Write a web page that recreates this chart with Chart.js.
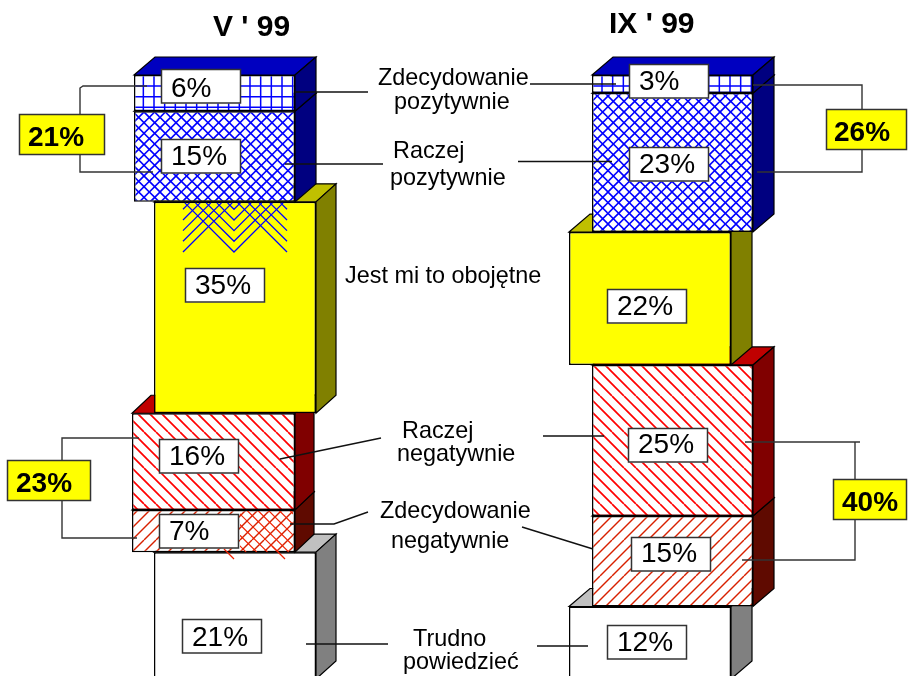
<!DOCTYPE html>
<html><head><meta charset="utf-8">
<style>html,body{margin:0;padding:0;background:#fff;overflow:hidden}#w{position:relative;width:908px;height:676px}</style>
<script src="https://cdn.jsdelivr.net/npm/chart.js@4"></script></head>
<body><div id="w"><canvas id="c" width="908" height="676"></canvas></div>
<script>
const periods = ["V ' 99", "IX ' 99"];
const answers = ["Zdecydowanie pozytywnie","Raczej pozytywnie","Jest mi to obojętne","Raczej negatywnie","Zdecydowanie negatywnie","Trudno powiedzieć"];
const valuesV = [6, 15, 35, 16, 7, 21];
const valuesIX = [3, 23, 22, 25, 15, 12];
const totalsV = [21, 23];
const totalsIX = [26, 40];

// layout only
const PX = 6.04, TOPY = 75;
const centers = [[214.5,214.5,235,213.5,213.5,235],[672.5,672.5,650,672.5,672.5,650]];
const widths = [[161,161,162,163,163,162],[161,161,162,161,161,162]];
const depth = [[21,21,20,19,19,20],[21,21,21,21,21,21]];
const faceTop = ['#0000c0','#0000c0','#c0c000','#c00000','#c00000','#c0c0c0'];
const faceSide = ['#000080','#000080','#808000','#800000','#5f0a00','#808080'];
const boxes = [
 [[161,69,28],[161,139,26],[185,268,26],[159,439,26],[159,514,26],[182,619,27]],
 [[629,64,26],[629,147,26],[607,289,26],[628,428,25],[631,537,25],[607,625,26]]
];

function pat(size, draw){
  const c=document.createElement('canvas');c.width=c.height=size;
  const x=c.getContext('2d');x.fillStyle='#fff';x.fillRect(0,0,size,size);draw(x,size);
  return document.getElementById('c').getContext('2d').createPattern(c,'repeat');
}
const gridP = pat(32,(x)=>{x.strokeStyle='#0000ff';x.lineWidth=1.5;for(let i=0;i<3;i++){const a=i*32/3+4.67,b=i*32/3+0.67;x.beginPath();x.moveTo(a,0);x.lineTo(a,32);x.moveTo(0,b);x.lineTo(32,b);x.stroke();}});
function diagLines(x,s,n,dirDown,col,lw){x.strokeStyle=col;x.lineWidth=lw;const st=s/n;for(let i=-n;i<=2*n;i++){x.beginPath();if(dirDown){x.moveTo(i*st,0);x.lineTo(i*st+s,s);}else{x.moveTo(i*st+s,0);x.lineTo(i*st,s);}x.stroke();}}
const diamondP = pat(32,(x,s)=>{diagLines(x,s,3,true,'#0000ff',1.6);diagLines(x,s,3,false,'#0000ff',1.6);});
const redDown = pat(36,(x,s)=>diagLines(x,s,3,true,'#ff0000',1.7));
const redUp = pat(36,(x,s)=>diagLines(x,s,3,false,'#d82000',1.4));
const fills = [gridP,diamondP,'#ffff00',redDown,redUp,'#ffffff'];

function cum(vals){let t=100;return vals.map(v=>{const r=[t-v,t];t-=v;return r;});}
const rangesV=cum(valuesV), rangesIX=cum(valuesIX);
const datasets=[];
[rangesV,rangesIX].forEach((rng,col)=>{
  rng.forEach((r,i)=>{
    datasets.push({label:answers[i]+' '+periods[col],data:[{x:centers[col][i],y:r}],backgroundColor:fills[i],borderColor:'#000',borderWidth:1.5,borderSkipped:false,barThickness:widths[col][i],grouped:false,col:col,idx:i,inflateAmount:0});
  });
});
// earlier datasets are painted on top: blue stays in front of yellow, and so on.

function line(ctx,pts,col,lw){ctx.strokeStyle=col||'#000';ctx.lineWidth=lw||1.3;ctx.beginPath();pts.forEach((p,i)=>i?ctx.lineTo(p[0],p[1]):ctx.moveTo(p[0],p[1]));ctx.stroke();}
function poly(ctx,pts,fill){ctx.fillStyle=fill;ctx.beginPath();pts.forEach((p,i)=>i?ctx.lineTo(p[0],p[1]):ctx.moveTo(p[0],p[1]));ctx.closePath();ctx.fill();ctx.strokeStyle='#000';ctx.lineWidth=1.2;ctx.stroke();}

const faces={id:'faces',
 beforeDatasetDraw(chart,args){
  const ds=chart.data.datasets[args.index],el=args.meta.data[0];if(!el)return;
  const p=el.getProps(['x','y','base','width'],true);
  const L=p.x-p.width/2,R=p.x+p.width/2,d=depth[ds.col][ds.idx],h=18;
  const ctx=chart.ctx;ctx.save();
  poly(ctx,[[L,p.y],[L+d,p.y-h],[R+d,p.y-h],[R,p.y]],faceTop[ds.idx]);
  poly(ctx,[[R,p.y],[R+d,p.y-h],[R+d,p.base-h],[R,p.base]],faceSide[ds.idx]);
  ctx.restore();
 },
 afterDatasetDraw(chart,args){
  const ds=chart.data.datasets[args.index],el=args.meta.data[0];if(!el)return;
  const p=el.getProps(['x','y','base','width'],true);
  const ctx=chart.ctx;ctx.save();
  if(ds.col===0&&ds.idx===2){ // stray blue hatch on the yellow block
    const t=p.y+1;
    for(let k=0;k<5;k++){const y0=252-k*10.67,r=y0-t;
      line(ctx,[[234-r,t],[234,y0],[234+r,t]],'#0000ff',1.3);
      line(ctx,[[183,y0],[183+r,t]],'#0000ff',1.3);
      line(ctx,[[287,y0],[287-r,t]],'#0000ff',1.3);
    }
  }
  if(ds.col===0&&ds.idx===4){ // stray red cross hatch on the 7% block
    ctx.save();ctx.beginPath();ctx.rect(240,p.y+1,53,p.base-p.y-1);ctx.clip();
    for(let k=-3;k<=5;k++){const c=-274+k*10.67;line(ctx,[[c+p.y,p.y],[c+p.base,p.base]],'#f02000',1.2);}
    ctx.restore();
    line(ctx,[[272,546],[285,559]],'#f02000',1.2);
    line(ctx,[[224,549],[234,559]],'#f02000',1.2);
  }
  ctx.restore();
 },
 afterDatasetsDraw(chart){
  const ctx=chart.ctx;ctx.save();
  const dk='#333';
  // titles
  ctx.fillStyle='#000';ctx.textBaseline='alphabetic';ctx.textAlign='left';
  ctx.font='bold 30px "Liberation Sans"';
  ctx.fillText(periods[0],213,36);ctx.fillText(periods[1],609,33);
  // leader lines
  const lead=[[[295,92],[368,92]],[[285,164],[383,164]],[[280,459],[381,438]],[[290,524],[334,524],[368,512]],[[306,644],[388,644]],
    [[530,84],[616,84]],[[518,161.5],[612,161.5]],[[543,436],[604,436]],[[522,527],[593,549]],[[537,646],[588,646]]];
  lead.forEach(l=>line(ctx,l,'#111',1.4));
  // brackets
  const br=[[[80,114],[80,88],[83,86],[147,86]],[[80,155],[80,172],[153,172]],
    [[62,460],[62,438],[139,438]],[[62,500],[62,538],[137,538]],
    [[753,85],[862,85],[862,109]],[[862,150],[862,172],[757,172]],
    [[745,442],[860,442]],[[855,442],[855,479]],[[855,520],[855,560],[742,560]]];
  br.forEach(l=>line(ctx,l,dk,1.4));
  // value boxes
  ctx.font='28px "Liberation Sans"';ctx.textBaseline='alphabetic';
  [valuesV,valuesIX].forEach((vals,c)=>vals.forEach((v,i)=>{
    const [x,y,b]=boxes[c][i];
    ctx.fillStyle='#fff';ctx.fillRect(x,y,80,34.5);ctx.strokeStyle='#333';ctx.lineWidth=1.5;ctx.strokeRect(x+.5,y+.5,79,33.5);
    ctx.fillStyle='#000';ctx.fillText(v+'%',x+10,y+b);
  }));
  // totals
  const tot=[[totalsV[0],19,114,86,9],[totalsV[1],7,460,84,9],[totalsIX[0],826,109,81,8],[totalsIX[1],833,479,74,9]];
  ctx.font='bold 28px "Liberation Sans"';
  tot.forEach(([v,x,y,w,o])=>{
    ctx.fillStyle='#ffff00';ctx.fillRect(x,y,w,41);ctx.strokeStyle='#333';ctx.lineWidth=1.5;ctx.strokeRect(x+.5,y+.5,w-1,40);
    ctx.fillStyle='#000';ctx.fillText(v+'%',x+o,y+32);
  });
  // answer labels
  ctx.font='23.4px "Liberation Sans"';ctx.textAlign='left';ctx.textBaseline='alphabetic';ctx.fillStyle='#000';
  const lab=[[answers[0].split(' ')[0],378,85],[answers[0].split(' ')[1],394,109],
    [answers[1].split(' ')[0],393,158],[answers[1].split(' ')[1],390,185],
    [answers[2],345,283],
    [answers[3].split(' ')[0],402,438],[answers[3].split(' ')[1],397,461],
    [answers[4].split(' ')[0],380,518],[answers[4].split(' ')[1],391,548],
    [answers[5].split(' ')[0],413,646],[answers[5].split(' ')[1],403,669]];
  lab.forEach(([t,x,y])=>ctx.fillText(t,x,y));
  ctx.restore();
 }
};

new Chart(document.getElementById('c'),{type:'bar',data:{datasets},plugins:[faces],
 options:{responsive:false,animation:false,events:[],parsing:{xAxisKey:'x',yAxisKey:'y'},
  layout:{padding:0},
  plugins:{legend:{display:false},tooltip:{enabled:false},title:{display:false}},
  scales:{x:{type:'linear',display:false,min:0,max:908,offset:false},
   y:{display:false,min:100-(676-TOPY)/PX,max:100+TOPY/PX}}}});
</script></body></html>
